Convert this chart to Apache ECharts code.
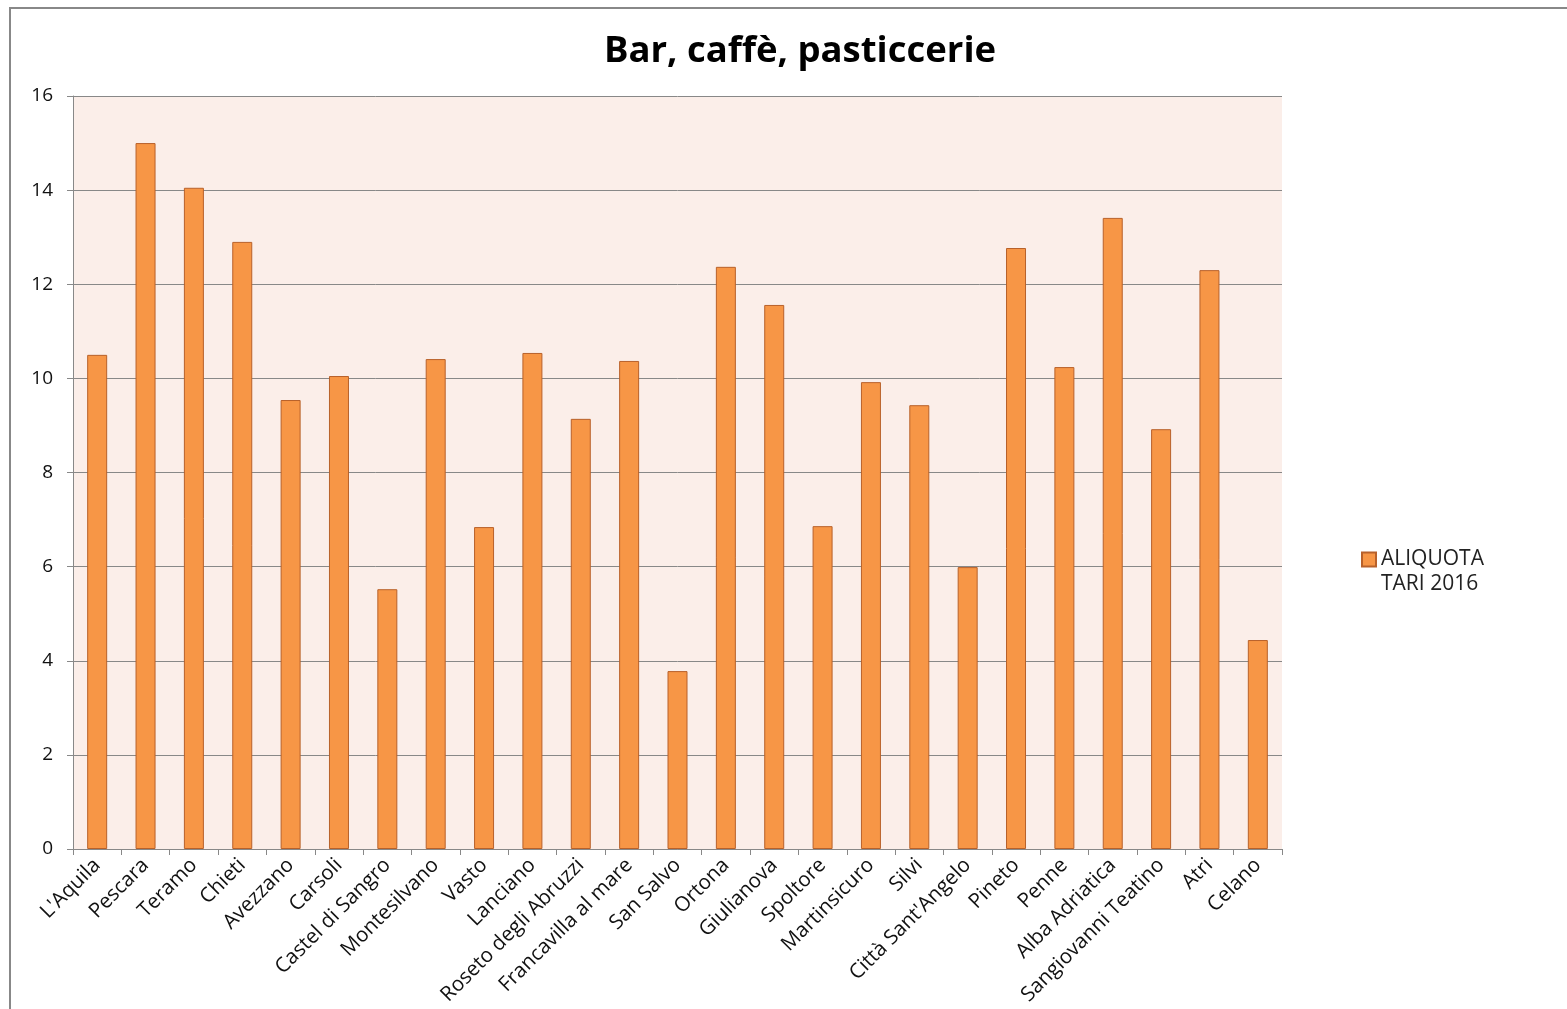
<!DOCTYPE html>
<html><head><meta charset="utf-8">
<script src="https://cdn.jsdelivr.net/npm/echarts@6/dist/echarts.min.js"></script>
<style>html,body{margin:0;padding:0;background:#fff}#c{width:1567px;height:1009px}</style>
</head><body><div id="c"></div>
<script>
const categories = ["L'Aquila","Pescara","Teramo","Chieti","Avezzano","Carsoli","Castel di Sangro","Montesilvano","Vasto","Lanciano","Roseto degli Abruzzi","Francavilla al mare","San Salvo","Ortona","Giulianova","Spoltore","Martinsicuro","Silvi","Città Sant'Angelo","Pineto","Penne","Alba Adriatica","Sangiovanni Teatino","Atri","Celano"];
const aliquota = [10.50,15.00,14.05,12.90,9.54,10.05,5.52,10.41,6.84,10.54,9.14,10.37,3.78,12.37,11.56,6.86,9.92,9.43,5.99,12.77,10.24,13.41,8.92,12.30,4.44];
const yTicks = [0,2,4,6,8,10,12,14,16];
const seriesName = "ALIQUOTA TARI 2016";

const chart = echarts.init(document.getElementById('c'), null, {renderer:'canvas'});
const font = "'Open Sans', 'Liberation Sans', sans-serif";
chart.setOption({
  animation:false,
  title:{text:'Bar, caffè, pasticcerie', left:795, top:28, textAlign:'center',
    textStyle:{fontFamily:font, fontSize:36.5, fontWeight:'bold', color:'#000'}},
  graphic:[{type:'rect', shape:{x:10,y:8,width:1600,height:1100}, style:{fill:'none', stroke:'#888', lineWidth:2}, z:-1}],
  legend:{left:1356, top:517, orient:'vertical', itemWidth:14, itemHeight:14, itemGap:8,
    textStyle:{fontFamily:font, fontSize:21, color:'#222', lineHeight:25},
    icon:'rect', data:[seriesName],
    formatter: n => ' \nALIQUOTA\nTARI 2016'},
  grid:{left:73, top:96, width:1209, height:753, containLabel:false,
    show:true, backgroundColor:'#FBEEE9', borderWidth:0},
  xAxis:{type:'category', data:categories,
    axisLine:{lineStyle:{color:'#888', width:1}},
    axisTick:{show:true, length:6, alignWithLabel:false, lineStyle:{color:'#888'}},
    axisLabel:{rotate:45, interval:0, margin:13, fontFamily:font, fontSize:20.5, color:'#111'}},
  yAxis:{type:'value', min:0, max:16, interval:2,
    axisLine:{show:true, lineStyle:{color:'#888'}},
    axisTick:{show:true, length:6, lineStyle:{color:'#888'}},
    splitLine:{lineStyle:{color:'#888', width:1}},
    axisLabel:{margin:20, fontFamily:font, fontSize:19, color:'#111',
      formatter:v=>yTicks.includes(v)?String(v):''}},
  series:[{name:seriesName, type:'bar', data:aliquota, barWidth:20,
    itemStyle:{color:'#F79646', borderColor:'#B8612A', borderWidth:1}}]
});
</script></body></html>
